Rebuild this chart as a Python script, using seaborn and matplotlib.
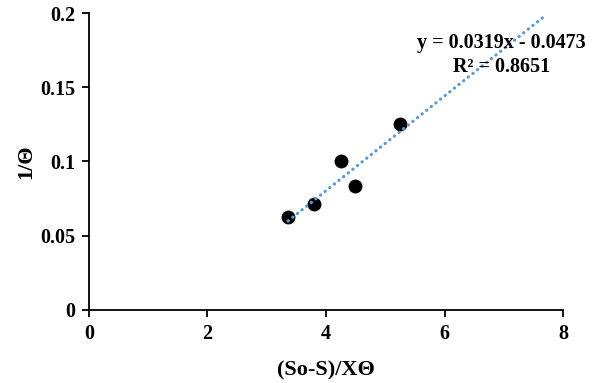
import matplotlib
matplotlib.use("Agg")
import matplotlib.pyplot as plt
import seaborn as sns
import numpy as np
import pandas as pd

# Data
x_vals = [3.36, 3.79, 4.25, 4.49, 5.24]
y_vals = [0.0626, 0.0714, 0.1003, 0.0835, 0.125]
slope = 0.0319
intercept = -0.0473
trend_x = [3.36, 7.70]
x_ticks = [0, 2, 4, 6, 8]
y_ticks = [0, 0.05, 0.1, 0.15, 0.2]
y_tick_labels = ["0", "0.05", "0.1", "0.15", "0.2"]
equation = "y = 0.0319x - 0.0473"
r2_text = "R² = 0.8651"

sns.set_theme(style="white")
plt.rcParams['font.family'] = ['Liberation Serif', 'DejaVu Serif']
plt.rcParams['font.weight'] = 'bold'

fig = plt.figure(figsize=(6.01, 3.83), dpi=100)
ax = fig.add_axes([0.148, 0.191, 0.789, 0.775])

df = pd.DataFrame({"x": x_vals, "y": y_vals})
tdf = pd.DataFrame({"x": trend_x, "y": [slope * v + intercept for v in trend_x]})

sns.lineplot(data=tdf, x="x", y="y", ax=ax, color="#5B9BD5", linewidth=2.3,
             linestyle=(0, (0.1, 1.75)), dash_capstyle="round", zorder=3)
sns.scatterplot(data=df, x="x", y="y", ax=ax, color="black", s=100,
                edgecolor="black", linewidth=0, zorder=2)

ax.set_xlim(0, 8)
ax.set_ylim(0, 0.2)
ax.set_xticks(x_ticks)
ax.set_xticklabels([str(t) for t in x_ticks])
ax.set_yticks(y_ticks)
ax.set_yticklabels(y_tick_labels)

for s in ["top", "right"]:
    ax.spines[s].set_visible(False)
for s in ["left", "bottom"]:
    ax.spines[s].set_color("black")
    ax.spines[s].set_linewidth(1.3)

ax.tick_params(axis="both", which="major", direction="out", length=5, width=1.3,
               color="black", labelsize=14.5, labelcolor="black", pad=5,
               bottom=True, left=True)
for lab in ax.get_xticklabels() + ax.get_yticklabels():
    lab.set_fontweight("bold")

ax.set_xlabel("(So-S)/XΘ", fontsize=16, fontweight="bold", color="black", labelpad=12)
ax.set_ylabel("1/Θ", fontsize=16, fontweight="bold", color="black", labelpad=3)

ax.text(6.96, 0.180, equation, ha="center", va="center", fontsize=14.5,
        fontweight="bold", color="black")
ax.text(6.96, 0.1636, r2_text, ha="center", va="center", fontsize=14.5,
        fontweight="bold", color="black")

fig.savefig("out.png", dpi=100)
